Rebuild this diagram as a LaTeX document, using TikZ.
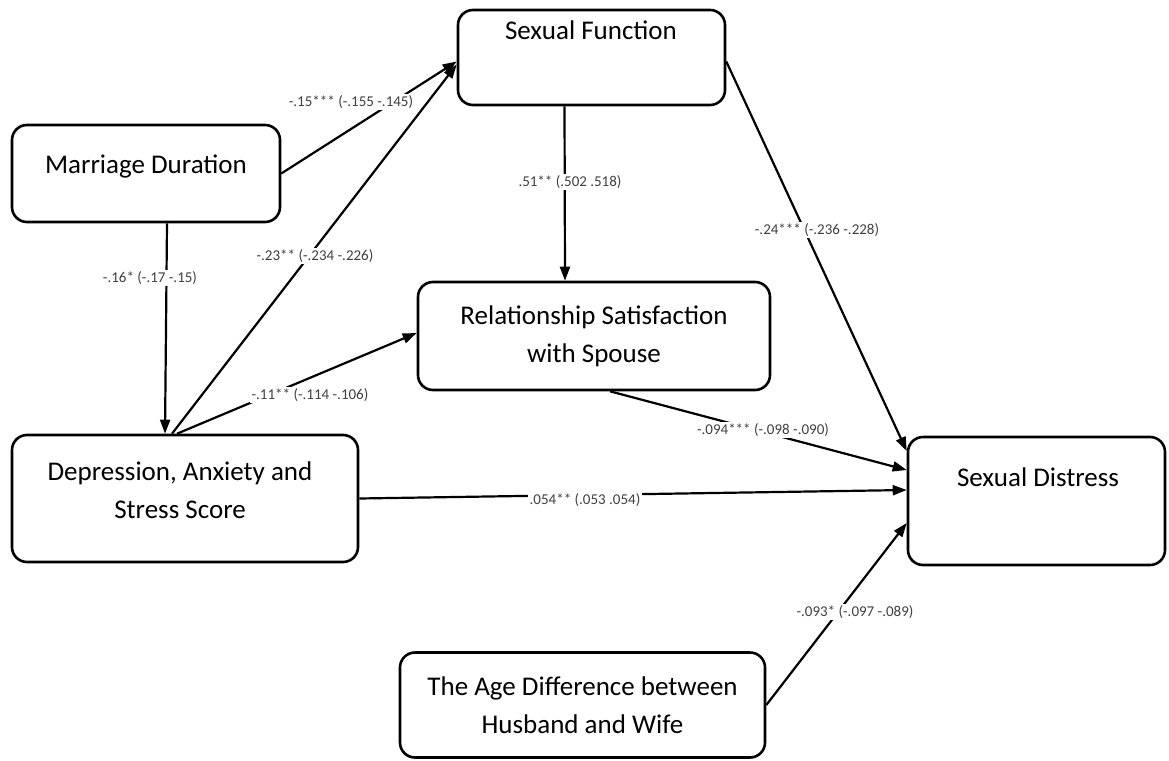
\documentclass[tikz,border=0pt]{standalone}
\usepackage{fontspec}
\setmainfont{Carlito}
\usetikzlibrary{arrows.meta,calc}
\begin{document}
\begin{tikzpicture}[x=1pt,y=-1pt,
  box/.style={draw=black,line width=2.6pt,rounded corners=15pt,fill=white,inner sep=0pt,align=center,font=\fontsize{27}{38}\selectfont},
  conn/.style={line width=2.2pt,-{Triangle[length=14pt,width=10pt]}},
  lab/.style={fill=white,inner sep=1.5pt,font=\fontsize{15}{18}\selectfont,text=black!75}]
\useasboundingbox (0,0) rectangle (1169,760);
% boxes
\node[box,minimum width=268pt,minimum height=97pt] (md) at (146,173.5) {};
\node[font=\fontsize{27}{38}\selectfont] (mdt) at (146,166) {Marriage Duration};
\node[box,minimum width=267pt,minimum height=95pt] (sf) at (591.5,57.5) {};
\node[font=\fontsize{27}{38}\selectfont] (sft) at (591,30) {Sexual Function};
\node[box,minimum width=352pt,minimum height=108pt] (rs) at (594,336) {Relationship Satisfaction\\with Spouse};
\node[box,minimum width=346pt,minimum height=127pt] (dass) at (185,498.5) {};
\node[align=center,font=\fontsize{27}{38}\selectfont] (dasst) at (180,490) {Depression, Anxiety and\\Stress Score};
\node[box,minimum width=257pt,minimum height=128pt] (sd) at (1036.5,501) {};
\node[font=\fontsize{27}{38}\selectfont] (sdt) at (1038,477) {Sexual Distress};
\node[box,minimum width=365pt,minimum height=105pt] (age) at (582.5,705) {The Age Difference between\\Husband and Wife};
% connectors
\draw[conn] (md.east) -- ([yshift=-4pt]sf.west);
\draw[conn] ([xshift=-13pt]dass.north) -- ([yshift=-7pt]sf.west);
\draw[conn] ([xshift=21pt]md.south) -- ([xshift=-20pt]dass.north);
\draw[conn] ([xshift=-8pt]dass.north) -- ([yshift=3pt]rs.west);
\draw[conn] ([xshift=-27pt]sf.south) -- ([xshift=-29pt]rs.north);
\draw[conn] ([yshift=-4pt]sf.east) -- ([yshift=50pt]sd.west);
\draw[conn] ([xshift=16pt]rs.south) -- ([yshift=31pt]sd.west);
\draw[conn] (dass.east) -- ([yshift=11pt]sd.west);
\draw[conn] (age.east) -- ([yshift=-22pt]sd.west);
% labels
\node[lab] (l1) at (351,102) {-.15*** (-.155 -.145)};
\node[lab] (l2) at (570,182) {.51** (.502 .518)};
\node[lab] (l3) at (150,278) {-.16* (-.17 -.15)};
\node[lab] (l4) at (315,256) {-.23** (-.234 -.226)};
\node[lab] (l5) at (310,395) {-.11** (-.114 -.106)};
\node[lab] (l6) at (763,430) {-.094*** (-.098 -.090)};
\node[lab] (l7) at (585,500) {.054** (.053 .054)};
\node[lab] (l8) at (817,230) {-.24*** (-.236 -.228)};
\node[lab] (l9) at (855,612) {-.093* (-.097 -.089)};
\end{tikzpicture}
\end{document}
